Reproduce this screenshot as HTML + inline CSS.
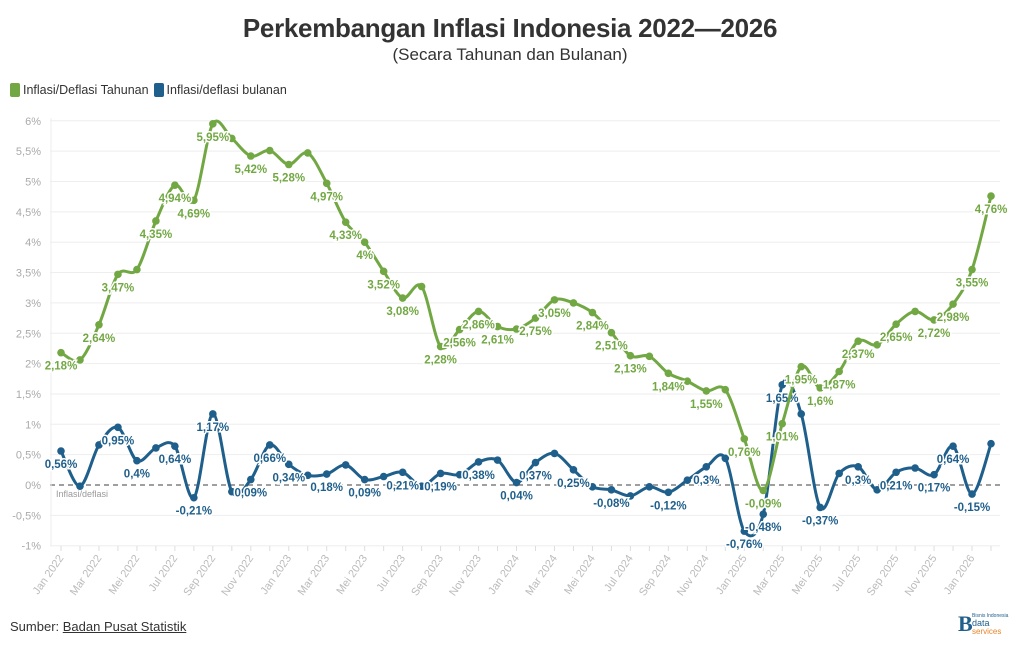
<!DOCTYPE html>
<html><head><meta charset="utf-8"><style>
body{margin:0;width:1020px;height:650px;background:#fff;font-family:"Liberation Sans",sans-serif;overflow:hidden;position:relative}
.t{position:absolute;left:0;width:1020px;text-align:center}
</style></head><body>
<div class="t" style="top:13px;font-size:26px;font-weight:bold;color:#333;letter-spacing:-0.3px">Perkembangan Inflasi Indonesia 2022—2026</div>
<div class="t" style="top:45px;font-size:17px;color:#333">(Secara Tahunan dan Bulanan)</div>
<div style="position:absolute;left:10px;top:83px;font-size:12.5px;color:#333;display:flex;gap:5px;align-items:center">
<span style="display:flex;align-items:center;gap:3px"><span style="width:10px;height:14px;background:#72a843;border-radius:2px;display:inline-block"></span>Inflasi/Deflasi Tahunan</span>
<span style="display:flex;align-items:center;gap:3px"><span style="width:10px;height:14px;background:#1f5f8b;border-radius:2px;display:inline-block"></span>Inflasi/deflasi bulanan</span>
</div>
<svg id="c" width="1020" height="650" style="position:absolute;left:0;top:0"></svg>
<div style="position:absolute;left:10px;top:619px;font-size:13px;color:#333">Sumber: <span style="text-decoration:underline">Badan Pusat Statistik</span></div>
<div style="position:absolute;left:958px;top:613px;width:58px;height:24px">
<span style="position:absolute;left:0;top:-2px;font:bold 22px 'Liberation Serif',serif;color:#1f5f8b">B</span>
<span style="position:absolute;left:14px;top:0;font-size:5px;color:#1f5f8b">Bisnis Indonesia</span>
<span style="position:absolute;left:14px;top:5px;font-size:9px;color:#1f5f8b">data</span>
<span style="position:absolute;left:14px;top:14px;font-size:8px;color:#e8862a">services</span>
</div>
<script>
const months=["Jan","Feb","Mar","Apr","Mei","Jun","Jul","Agu","Sep","Okt","Nov","Des"];
const annual=[2.18,2.06,2.64,3.47,3.55,4.35,4.94,4.69,5.95,5.71,5.42,5.51,5.28,5.47,4.97,4.33,4.00,3.52,3.08,3.27,2.28,2.56,2.86,2.61,2.57,2.75,3.05,3.00,2.84,2.51,2.13,2.12,1.84,1.71,1.55,1.57,0.76,-0.09,1.01,1.95,1.60,1.87,2.37,2.31,2.65,2.86,2.72,2.98,3.55,4.76];
const monthly=[0.56,-0.02,0.66,0.95,0.40,0.61,0.64,-0.21,1.17,-0.11,0.09,0.66,0.34,0.16,0.18,0.33,0.09,0.14,0.21,-0.02,0.19,0.17,0.38,0.41,0.04,0.37,0.52,0.25,-0.03,-0.08,-0.18,-0.03,-0.12,0.08,0.30,0.44,-0.76,-0.48,1.65,1.17,-0.37,0.19,0.30,-0.08,0.21,0.28,0.17,0.64,-0.15,0.68];
const annualLabelIdx=[0,2,3,5,6,7,8,10,12,14,15,16,17,18,20,21,22,23,25,26,28,29,30,32,34,36,37,38,39,40,41,42,44,46,47,48,49];
const monthlyLabelIdx=[0,3,4,6,7,8,10,11,12,14,16,18,20,22,24,25,27,29,32,34,36,37,38,40,42,44,46,47,48];
const yTicks=[-1,-0.5,0,0.5,1,1.5,2,2.5,3,3.5,4,4.5,5,5.5,6];
const svg=document.getElementById('c');const NS='http://www.w3.org/2000/svg';
const X=i=>61+i*18.98, Y=v=>485-v*60.7;
function mk(t,a,p){const e=document.createElementNS(NS,t);for(const k in a)e.setAttribute(k,a[k]);(p||svg).appendChild(e);return e;}
const fmt=v=>String(+v.toFixed(2)).replace('.',',')+'%';
yTicks.forEach(v=>{
 const g=mk('line',{x1:50,x2:1000,y1:Y(v),y2:Y(v),stroke:v===0?'#666':'#eee','stroke-dasharray':v===0?'5,4':'', 'stroke-width':v===0?1.2:1});
 
 
 const t=mk('text',{x:41,y:Y(v)+4,'text-anchor':'end','font-size':11,fill:'#aaa'});
 t.textContent=fmt(v).replace(',0%','%');
 
 
});
mk('line',{x1:51,x2:51,y1:118,y2:546,stroke:'#eee'});
const zl=mk('text',{x:56,y:497,'font-size':9,fill:'#999'});zl.textContent='Inflasi/deflasi';


for(let i=0;i<annual.length;i++){
 mk('line',{x1:X(i),x2:X(i),y1:546,y2:551,stroke:'#ddd'});
 if(i%2===0){const t=mk('text',{x:X(i)+3,y:558,'text-anchor':'end','font-size':11,fill:'#bbb',transform:`rotate(-55 ${X(i)+3} 558)`});
 t.textContent=months[i%12]+' '+(2022+Math.floor(i/12));
 
 }
}
function path(d){const p=d.map((v,i)=>[X(i),Y(v)]);let s=`M${p[0][0]},${p[0][1]}`;
 for(let i=0;i<p.length-1;i++){const p0=p[i-1]||p[i],p1=p[i],p2=p[i+1],p3=p[i+2]||p2;const k=0.16;
 s+=`C${p1[0]+(p2[0]-p0[0])*k},${p1[1]+(p2[1]-p0[1])*k} ${p2[0]-(p3[0]-p1[0])*k},${p2[1]-(p3[1]-p1[1])*k} ${p2[0]},${p2[1]}`;}return s;}
function series(d,col,idx,name){
 const l=mk('path',{d:path(d),fill:'none',stroke:col,'stroke-width':3});
 
 
 d.forEach((v,i)=>{const c=mk('circle',{cx:X(i),cy:Y(v),r:3.8,fill:col});
 
 });
 idx.forEach(i=>{const t=mk('text',{x:X(i),y:Y(d[i])+17,'text-anchor':'middle','font-size':11.5,'font-weight':'bold',fill:col,stroke:'#fff','stroke-width':3,'paint-order':'stroke'});
 t.textContent=fmt(d[i]);
 
 });
}
series(monthly,'#1f5f8b',monthlyLabelIdx,'monthly');
series(annual,'#72a843',annualLabelIdx,'annual');
</script>
</body></html>
